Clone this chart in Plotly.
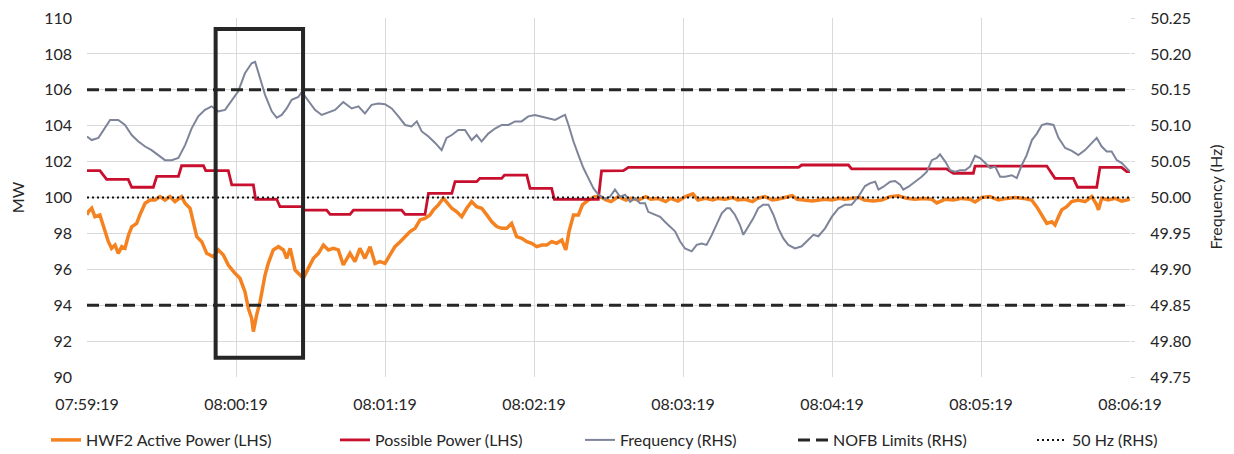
import pandas as pd
import plotly.graph_objects as go

# ---------------- data (seconds after 07:59:19) ----------------
BASE = pd.Timestamp("2000-01-01 07:59:19")

active_t = [0, 0.5, 1.9, 3.2, 5.2, 7.3, 8.6, 9.9, 11.3, 12.6, 14.0, 15.3, 16.7, 18.0, 20.0, 21.3,
            23.4, 25.4, 27.4, 29.4, 31.4, 33.4, 35.4, 38.1, 39.5, 41.5, 42.8, 44.2, 46.2, 48.2,
            50.9, 52.9, 54.9, 56.9, 59.6, 61.6, 63.6, 65.0, 66.3, 67.0, 68.3, 69.7, 71.7, 73.0,
            75.0, 77.1, 79.1, 80.4, 81.8, 83.8, 85.8, 87.1, 89.1, 91.2, 93.2, 95.2, 97.2, 99.2,
            101.2, 103.2, 105.9,
            107.9, 109.9, 111.9, 114.0, 116.0, 118.0, 120.0, 122.0, 124.0, 126.1, 128.1, 130.1,
            132.1, 134.1, 136.1, 138.1, 139.5, 141.5, 143.5, 144.8, 146.9, 148.9, 150.9, 152.9,
            154.9, 156.9, 158.9, 161.0, 163.0, 165.0, 167.0, 169.0, 171.0, 173.0, 175.1, 177.1,
            179.1, 181.1, 183.1, 185.1, 187.1, 189.1, 191.2, 192.8, 194.1, 195.9, 197.9, 199.5,
            201.9, 204.6, 207.3,
            209, 211, 214, 217, 219, 222, 225, 227, 230, 233, 235, 238, 241, 244, 246, 249, 252,
            254, 257, 260, 262, 265, 268, 270, 273, 276, 278, 281, 284, 286, 289, 292, 295, 297,
            300, 303, 305, 308, 311, 313,
            316.7, 320.0, 323.4, 326.7, 330.1, 333.4, 336.8, 340.2, 342.2, 345.5, 348.9, 352.2,
            355.6, 357.6, 360.3, 363.6, 367.0, 370.4, 373.7, 377.1, 380.4,
            382.4, 384.5, 386.5, 388.5, 389.8, 391.2, 392.5, 394.5, 396.5, 399.2, 401.9, 404.6,
            406.6, 407.3, 408.6, 411.3, 414.0, 416.7, 420]
active_mw = [99.03, 99.2, 99.4, 98.93, 99.03, 98.1, 97.54, 97.17, 97.35, 96.89, 97.26, 97.17, 97.9,
             98.37, 98.56, 99.03, 99.68, 99.86, 99.86, 100.05, 99.86, 100.05, 99.77, 100.05, 99.68,
             99.4, 98.65, 97.82, 97.54, 96.89, 96.7, 97.08, 96.8, 96.24, 95.78, 95.5, 94.75, 93.82,
             93.27, 92.53, 93.45, 94.2, 95.68, 96.33, 97.08, 97.26, 97.08, 96.61, 97.17, 95.96,
             95.68, 95.5, 96.05, 96.61, 96.89, 97.35, 97.08, 97.17, 97.08, 96.24, 96.89,
             96.43, 97.17, 96.61, 97.26, 96.33, 96.43, 96.33, 96.8, 97.26, 97.54, 97.82, 98.1,
             98.28, 98.75, 98.84, 99.03, 99.31, 99.59, 99.96, 99.77, 99.4, 99.2, 98.93, 99.4,
             99.77, 99.49, 99.4, 99.03, 98.65, 98.38, 98.28, 98.28, 98.56, 97.82, 97.73, 97.54,
             97.45, 97.26, 97.35, 97.35, 97.54, 97.45, 97.63, 97.08, 98.1, 99.03, 99.03, 99.59,
             99.86, 100.05, 100.0,
             99.86, 99.77, 100.05, 99.86, 99.95, 99.86, 100.05, 99.9, 99.95, 99.77, 99.95, 99.8,
             100.05, 100.2, 99.86, 99.95, 99.86, 99.95, 99.9, 100.0, 99.86, 99.9, 99.77, 99.95,
             100.05, 99.86, 99.9, 100.0, 100.1, 99.9, 99.86, 99.8, 99.86, 99.9, 99.86, 99.95,
             99.9, 99.95, 100.0, 99.86,
             99.8, 99.86, 100.05, 100.1, 99.95, 99.9, 99.95, 99.9, 99.7, 99.9, 99.86, 99.95,
             99.9, 99.75, 100.0, 100.05, 99.86, 99.95, 100.0, 99.95, 99.86,
             99.49, 99.03, 98.56, 98.65, 98.47, 98.93, 99.31, 99.49, 99.77, 99.86, 99.77, 100.05,
             99.59, 99.31, 99.95, 99.86, 99.95, 99.8, 99.9]

possible_t = [0, 5.2, 7.9, 16.6, 18.0, 26.7, 28.1, 36.8, 38.1, 46.9, 47.8, 56.9, 58.3, 67.0, 67.9,
              76.4, 77.7, 86.5, 87.1, 96.5, 97.9, 105.9, 107.3, 126.7, 128.1, 136.1, 137.5, 146.9,
              148.2, 156.9, 158.2, 167.0, 168.1, 177.1, 178.4, 187.1, 188.2, 205.9, 207.2, 216.0,
              218.0, 286.5, 287.8, 306.6, 307.9, 346.2, 348.9, 356.9, 357.6, 386.5, 389.8, 397.2,
              398.9, 406.6, 407.9, 416.6, 418.7, 420]
possible_mw = [101.5, 101.5, 101.01, 101.01, 100.57, 100.57, 101.18, 101.18, 101.77, 101.77, 101.5,
               101.5, 100.7, 100.7, 99.9, 99.9, 99.49, 99.49, 99.3, 99.3, 99.06, 99.06, 99.3, 99.3,
               99.06, 99.06, 100.23, 100.23, 100.88, 100.88, 101.07, 101.07, 101.25, 101.25, 100.51,
               100.51, 99.9, 99.9, 101.48, 101.5, 101.68, 101.68, 101.81, 101.81, 101.59, 101.59,
               101.35, 101.35, 101.75, 101.75, 101.07, 101.07, 100.57, 100.57, 101.68, 101.68,
               101.44, 101.44]

freq_t = [0, 1.9, 4.6, 6.6, 9.3, 12.6, 15.3, 18.0, 20.7, 23.4, 26.0, 28.7, 31.4, 34.1, 36.8, 39.5,
          42.1, 44.8, 47.5, 50.2, 52.9, 55.6, 58.3, 60.9, 63.6, 66.3, 67.7, 69.0, 71.7, 74.4, 76.4,
          78.4, 80.4, 82.4, 85.1, 86.5, 89.1, 91.8, 94.5, 97.2, 99.9, 103.2,
          106.6, 109.3, 111.9, 114.6, 117.3, 120.0, 122.7, 125.4, 128.1, 130.7, 132.8, 134.8,
          137.5, 140.2, 142.8, 144.8, 146.9, 149.5, 152.2, 154.9, 156.9, 158.9, 161.6, 164.3,
          167.0, 169.7, 172.4, 175.0, 177.7, 180.4, 183.1, 185.8, 188.5, 191.2, 192.5, 193.9,
          195.9, 197.9, 199.9, 201.9, 203.9, 205.9, 208.6,
          210.6, 212.6, 214.7, 216.7, 218.7, 220.7, 222.7, 224.7, 226.0, 228.8, 230.8, 232.8,
          234.8, 236.8, 238.8, 240.8, 243.5, 245.5, 247.5, 249.5, 251.6, 253.6, 255.6, 257.6,
          258.9, 260.9, 262.9, 264.3, 266.3, 268.3, 270.3, 272.3, 274.4, 276.4, 278.4, 280.4,
          282.4, 285.1, 287.8, 289.8, 292.5, 294.5, 297.2, 299.9, 302.6, 305.3, 307.9, 310.6,
          313.3,
          315.4, 317.4, 318.7, 320.7, 323.4, 325.4, 327.4, 328.7, 330.8, 333.5, 336.1, 338.2,
          340.2, 342.2, 343.5, 345.6, 347.6, 349.6, 351.6, 353.6, 355.6, 357.6, 359.6, 361.7,
          363.7, 365.7, 367.7, 369.7, 372.4, 374.4, 376.4, 378.4, 380.5, 382.5, 384.5, 386.5,
          389.2, 391.2, 393.9, 396.6, 399.2, 401.9, 404.6, 406.6, 408.6, 410.6, 412.6, 414.7,
          416.7, 418.7, 420]
freq_hz = [50.085, 50.080, 50.083, 50.094, 50.108, 50.108, 50.101, 50.087, 50.078, 50.071, 50.066,
           50.059, 50.052, 50.052, 50.055, 50.073, 50.096, 50.113, 50.122, 50.127, 50.120, 50.122,
           50.136, 50.148, 50.173, 50.187, 50.189, 50.173, 50.143, 50.120, 50.111, 50.115, 50.124,
           50.136, 50.140, 50.147, 50.134, 50.122, 50.115, 50.118, 50.122, 50.133,
           50.124, 50.127, 50.117, 50.129, 50.131, 50.130, 50.124, 50.113, 50.101, 50.099, 50.106,
           50.092, 50.085, 50.076, 50.066, 50.083, 50.087, 50.094, 50.094, 50.080, 50.087, 50.078,
           50.089, 50.096, 50.101, 50.101, 50.106, 50.106, 50.113, 50.115, 50.113, 50.110, 50.108,
           50.113, 50.115, 50.101, 50.078, 50.059, 50.041, 50.027, 50.013, 50.004, 49.998,
           50.001, 50.011, 50.001, 50.004, 49.994, 49.999, 49.992, 49.992, 49.980, 49.976, 49.973,
           49.966, 49.959, 49.953, 49.939, 49.929, 49.925, 49.934, 49.936, 49.934, 49.948, 49.962,
           49.978, 49.985, 49.985, 49.976, 49.962, 49.948, 49.959, 49.971, 49.985, 49.990, 49.990,
           49.976, 49.957, 49.943, 49.934, 49.929, 49.932, 49.939, 49.948, 49.946, 49.957, 49.973,
           49.985, 49.990, 49.990, 50.001, 50.016,
           50.020, 50.022, 50.011, 50.015, 50.022, 50.023, 50.018, 50.011, 50.015, 50.022, 50.029,
           50.036, 50.052, 50.055, 50.060, 50.050, 50.038, 50.036, 50.038, 50.038, 50.043, 50.058,
           50.055, 50.048, 50.041, 50.043, 50.029, 50.029, 50.031, 50.027, 50.045, 50.059, 50.080,
           50.089, 50.101, 50.103, 50.101, 50.083, 50.069, 50.065, 50.059, 50.066, 50.076, 50.083,
           50.071, 50.064, 50.064, 50.052, 50.048, 50.041, 50.036]

nofb_limits = [50.15, 49.85]
nominal_hz = 50.0
window_end_s = 420
highlight_s = [51.8, 87.0]
highlight_mw = [91.07, 109.39]

mw_range = [90, 110]
hz_range = [49.75, 50.25]


def ts(seconds):
    return BASE + pd.to_timedelta(pd.Series(seconds, dtype=float), unit="s")


FONT = "Lato"
TXT = "#262626"
GRID = "#d9d9d9"
FIG_W, FIG_H = 1226, 446   # page has an 8px body margin; this fills the 1234x454 window

fig = go.Figure()
fig.add_trace(go.Scatter(x=ts(active_t), y=active_mw, mode="lines", name="HWF2 Active Power (LHS)",
                         line=dict(color="#F58220", width=3.5), yaxis="y", legend="legend"))
fig.add_trace(go.Scatter(x=ts(possible_t), y=possible_mw, mode="lines", name="Possible Power (LHS)",
                         line=dict(color="#C8102E", width=2.8), yaxis="y", legend="legend2"))
fig.add_trace(go.Scatter(x=ts(freq_t), y=freq_hz, mode="lines", name="Frequency (RHS)",
                         line=dict(color="#7E8499", width=2), yaxis="y2", legend="legend3"))
ends = ts([0, window_end_s])
for i, lim in enumerate(nofb_limits):
    fig.add_trace(go.Scatter(x=ends, y=[lim, lim], mode="lines", name="NOFB Limits (RHS)",
                             showlegend=(i == 0), legendgroup="nofb", legend="legend4",
                             line=dict(color="#262626", width=3, dash="12px,6px"), yaxis="y2"))
fig.add_trace(go.Scatter(x=ends, y=[nominal_hz, nominal_hz], mode="lines", name="50 Hz (RHS)",
                         line=dict(color="#111111", width=2, dash="2px,3px"), yaxis="y2",
                         legend="legend5"))

hx = ts(highlight_s)
fig.add_shape(type="rect", xref="x", yref="y", x0=hx.iloc[0], x1=hx.iloc[1],
              y0=highlight_mw[0], y1=highlight_mw[1],
              line=dict(color="#262626", width=4), fillcolor="rgba(0,0,0,0)", layer="above")

# right-hand axis title as a rotated annotation (keeps it beside the tick labels)
fig.add_annotation(text="Frequency (Hz)", xref="paper", yref="paper", x=1.0815, y=0.5,
                   xanchor="center", yanchor="middle", textangle=-90, showarrow=False,
                   font=dict(family=FONT, size=16, color=TXT))


def legend_at(px):
    return dict(orientation="h", xref="container", yref="container", x=px / FIG_W,
                xanchor="left", y=1 - 432 / FIG_H, yanchor="middle",
                font=dict(family=FONT, size=16, color=TXT), itemwidth=30,
                bgcolor="rgba(0,0,0,0)", borderwidth=0)


fig.update_layout(
    width=FIG_W, height=FIG_H,
    margin=dict(l=79, r=104, t=10, b=77, autoexpand=False),
    paper_bgcolor="white", plot_bgcolor="white",
    font=dict(family=FONT, size=16, color=TXT),
    showlegend=True,
    legend=legend_at(38), legend2=legend_at(327), legend3=legend_at(572),
    legend4=legend_at(785), legend5=legend_at(1024),
    xaxis=dict(type="date", range=[ends.iloc[0], ends.iloc[1]], tick0=ends.iloc[0], dtick=60000,
               tickformat="%H:%M:%S", showgrid=True, gridcolor=GRID, gridwidth=1.3,
               zeroline=False, showline=False, ticks="", ticklabelstandoff=16,
               automargin=False, tickfont=dict(size=16)),
    yaxis=dict(range=mw_range, dtick=2, showgrid=True, gridcolor=GRID, gridwidth=1.3,
               zeroline=False, showline=False, ticks="", ticklabelstandoff=14, automargin=False,
               ticklabeloverflow="allow",
               title=dict(text="MW", font=dict(size=16), standoff=16), tickfont=dict(size=16)),
    yaxis2=dict(range=hz_range, dtick=0.05, tickformat=".2f", overlaying="y", side="right",
                showgrid=False, zeroline=False, showline=False, ticks="outside", ticklen=4,
                tickcolor=GRID, ticklabelstandoff=12, automargin=False,
                ticklabeloverflow="allow", tickfont=dict(size=16)),
)

fig.write_html("out.html")
